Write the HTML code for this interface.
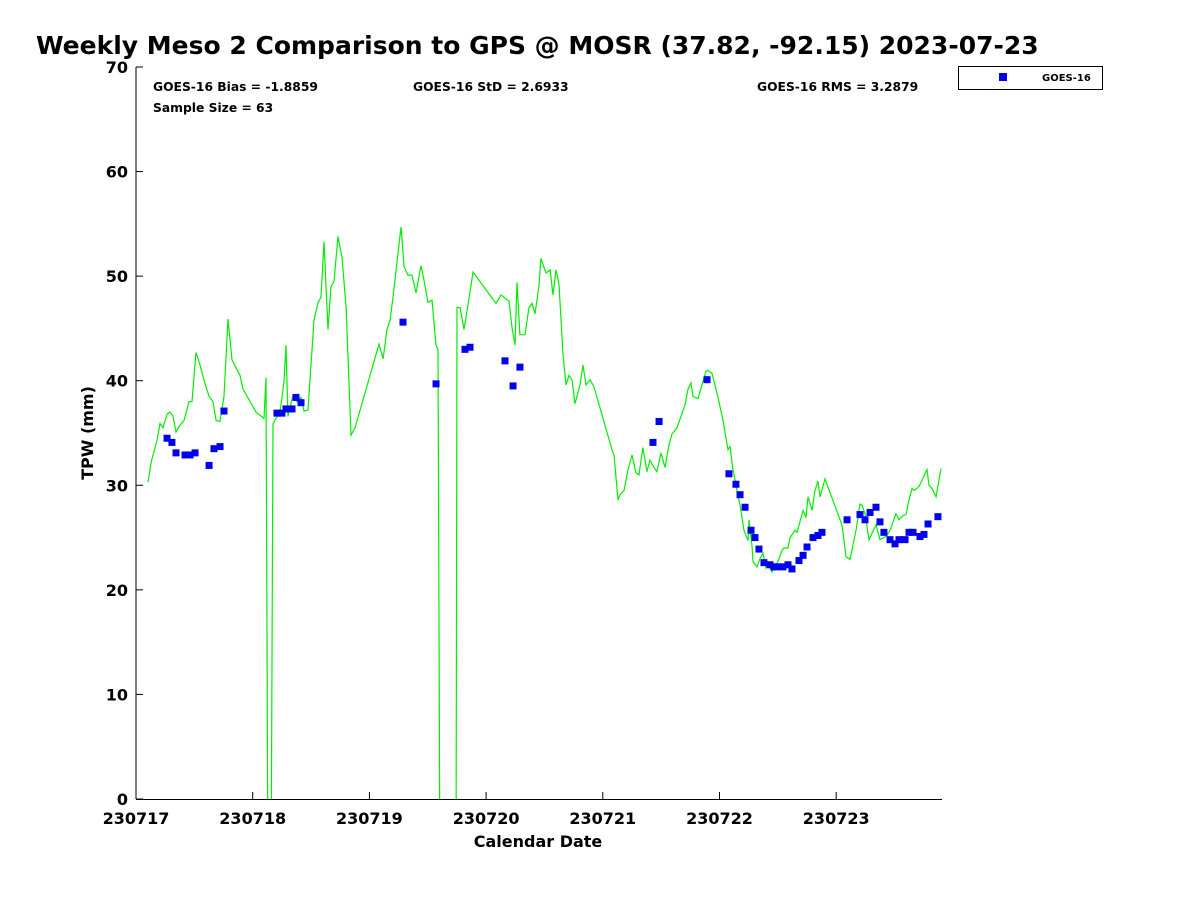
<!DOCTYPE html>
<html><head><meta charset="utf-8"><style>
body{margin:0;background:#fff;font-family:"DejaVu Sans","Liberation Sans",sans-serif}
</style></head><body>
<svg width="1200" height="900" xmlns="http://www.w3.org/2000/svg" style="font-family:'DejaVu Sans','Liberation Sans',sans-serif">
<defs><clipPath id="pc"><rect x="136" y="60" width="806" height="739"/></clipPath></defs>
<rect width="1200" height="900" fill="#fff"/>
<text x="36" y="54" font-size="25" font-weight="bold">Weekly Meso 2 Comparison to GPS @ MOSR (37.82, -92.15) 2023-07-23</text>
<g id="stats" font-size="12.3" font-weight="bold">
<text x="153" y="91">GOES-16 Bias = -1.8859</text>
<text x="413" y="91">GOES-16 StD = 2.6933</text>
<text x="757" y="91">GOES-16 RMS = 3.2879</text>
<text x="153" y="112">Sample Size = 63</text>
</g>
<g id="axes"></g>
<g id="plot" clip-path="url(#pc)"></g>
<g>
<rect x="958.5" y="66.5" width="144" height="23" fill="#fff" stroke="#000" stroke-width="1"/>
<rect x="999" y="73" width="8" height="8" fill="#0000ee"/>
<text x="1042" y="81" font-size="10" font-weight="bold">GOES-16</text>
</g>
<text x="538" y="847" font-size="16" font-weight="bold" text-anchor="middle">Calendar Date</text>
<text transform="translate(93,433) rotate(-90)" font-size="16" font-weight="bold" text-anchor="middle">TPW (mm)</text>
</svg>
<script>
const xTickLabels=["230717","230718","230719","230720","230721","230722","230723"];
const yTicks=[0,10,20,30,40,50,60,70];
const gpsTime=[0.103,0.129,0.180,0.206,0.231,0.266,0.291,0.317,0.343,0.368,0.411,0.454,0.480,0.514,0.548,0.591,0.626,0.660,0.686,0.720,0.754,0.788,0.823,0.891,0.917,1.028,1.097,1.114,1.131,1.157,1.174,1.200,1.234,1.268,1.285,1.302,1.345,1.380,1.414,1.440,1.474,1.525,1.560,1.585,1.611,1.645,1.671,1.697,1.731,1.765,1.800,1.842,1.877,2.082,2.117,2.151,2.177,2.202,2.271,2.297,2.331,2.365,2.399,2.442,2.468,2.502,2.536,2.571,2.588,2.605,2.742,2.751,2.776,2.811,2.853,2.888,3.085,3.102,3.128,3.162,3.196,3.222,3.248,3.265,3.290,3.333,3.368,3.393,3.419,3.453,3.470,3.513,3.548,3.573,3.599,3.625,3.659,3.685,3.710,3.736,3.762,3.805,3.830,3.856,3.890,3.925,4.079,4.096,4.130,4.147,4.182,4.216,4.250,4.284,4.310,4.344,4.379,4.404,4.439,4.464,4.499,4.533,4.567,4.593,4.636,4.704,4.730,4.756,4.773,4.816,4.850,4.884,4.901,4.936,4.987,5.030,5.073,5.090,5.116,5.150,5.176,5.210,5.244,5.253,5.279,5.287,5.321,5.347,5.373,5.398,5.416,5.450,5.476,5.501,5.536,5.553,5.587,5.604,5.647,5.664,5.716,5.741,5.758,5.793,5.818,5.844,5.861,5.904,6.050,6.084,6.118,6.170,6.204,6.221,6.247,6.281,6.298,6.341,6.375,6.409,6.435,6.470,6.487,6.512,6.538,6.572,6.598,6.624,6.650,6.667,6.692,6.710,6.778,6.795,6.821,6.855,6.898];
const gpsTpw=[30.3,32.2,34.3,35.9,35.5,36.8,37.0,36.6,35.1,35.6,36.2,38.0,38.0,42.7,41.5,39.7,38.5,38.0,36.2,36.1,38.5,45.9,42.0,40.5,39.2,37.0,36.4,40.3,-9,-9,35.9,36.4,37.0,39.9,43.4,36.6,38.6,38.0,38.4,37.1,37.2,45.8,47.5,48.0,53.3,44.9,49.0,49.5,53.8,51.8,47.0,34.8,35.5,43.5,42.1,44.9,45.8,48.0,54.7,50.9,50.1,50.1,48.4,51.0,49.6,47.5,47.7,43.4,43.0,-9,-9,47.0,47.0,44.9,47.8,50.4,47.4,47.7,48.2,47.9,47.6,45.1,43.4,49.4,44.4,44.4,47.0,47.4,46.4,49.1,51.7,50.3,50.6,48.2,50.6,49.2,42.5,39.6,40.5,40.1,37.8,39.6,41.5,39.6,40.1,39.4,33.4,32.9,28.6,29.1,29.5,31.5,32.9,31.2,31.0,33.6,31.3,32.4,31.7,31.3,33.1,31.7,33.9,34.9,35.5,37.7,39.2,39.8,38.5,38.3,39.6,40.9,41.0,40.7,38.4,36.2,33.4,33.7,31.5,29.5,28.1,25.7,24.7,26.7,24.1,22.7,22.2,23.0,23.5,22.1,22.5,21.7,22.2,22.7,23.8,24.0,24.0,25.0,25.7,25.5,27.6,26.9,28.9,27.6,29.5,30.4,28.9,30.6,26.2,23.2,22.9,25.7,28.2,28.1,27.3,24.8,25.2,26.2,24.8,25.0,25.2,25.9,26.5,27.3,26.7,27.1,27.2,28.6,29.7,29.5,29.7,29.9,31.5,30.0,29.7,28.9,31.6];
const goesTime=[0.266,0.308,0.343,0.420,0.463,0.506,0.626,0.668,0.720,0.754,1.208,1.251,1.285,1.337,1.371,1.414,2.288,2.571,2.819,2.862,3.162,3.231,3.290,4.430,4.482,4.893,5.081,5.141,5.176,5.219,5.270,5.304,5.338,5.381,5.433,5.467,5.501,5.544,5.587,5.621,5.681,5.716,5.750,5.801,5.844,5.878,6.093,6.204,6.247,6.290,6.341,6.375,6.409,6.461,6.504,6.538,6.590,6.624,6.658,6.718,6.752,6.787,6.872];
const goesTpw=[34.5,34.1,33.1,32.9,32.9,33.1,31.9,33.5,33.7,37.1,36.9,36.9,37.3,37.3,38.4,37.9,45.6,39.7,43.0,43.2,41.9,39.5,41.3,34.1,36.1,40.1,31.1,30.1,29.1,27.9,25.7,25.0,23.9,22.6,22.4,22.2,22.2,22.2,22.4,22.0,22.8,23.3,24.1,25.0,25.2,25.5,26.7,27.2,26.7,27.4,27.9,26.5,25.5,24.8,24.4,24.8,24.8,25.5,25.5,25.1,25.3,26.3,27.0];
const NS='http://www.w3.org/2000/svg';
const X0=136,X1=942,Y0=799,Y1=67;
const xs=d=>X0+d*116.7;
const ys=v=>Y0-(v/70)*(Y0-Y1);
function mk(t,a){const e=document.createElementNS(NS,t);for(const k in a)e.setAttribute(k,a[k]);return e;}
const axes=document.getElementById('axes'),plot=document.getElementById('plot');
let e=mk('line',{x1:X0,y1:Y1,x2:X0,y2:Y0,stroke:'#000','stroke-width':1});


axes.appendChild(e);
e=mk('line',{x1:X0,y1:Y0+0.5,x2:X1,y2:Y0+0.5,stroke:'#000','stroke-width':1});


axes.appendChild(e);
yTicks.forEach(v=>{
 const y=ys(v);
 const t=mk('line',{x1:X0,y1:y,x2:X0+7,y2:y,stroke:'#000'});
 
 
 axes.appendChild(t);
 const l=mk('text',{x:X0-8,y:y+6,'font-size':16,'font-weight':'bold','text-anchor':'end'});
 
 
 l.textContent=v;axes.appendChild(l);
});
xTickLabels.forEach((s,i)=>{
 const x=xs(i);
 const t=mk('line',{x1:x,y1:Y0,x2:x,y2:Y0-7,stroke:'#000'});
 
 
 axes.appendChild(t);
 const l=mk('text',{x:x,y:Y0+25,'font-size':16,'font-weight':'bold','text-anchor':'middle'});
 
 
 l.textContent=s;axes.appendChild(l);
});
const pts=gpsTime.map((d,i)=>xs(d).toFixed(1)+','+ys(gpsTpw[i]).toFixed(1)).join(' ');
const pl=mk('polyline',{points:pts,fill:'none',stroke:'#00ee00','stroke-width':1.2});


plot.appendChild(pl);
goesTime.forEach((d,i)=>{
 const r=mk('rect',{x:xs(d)-3.5,y:ys(goesTpw[i])-3.5,width:7,height:7,fill:'#0000ee'});
 
 
 plot.appendChild(r);
});
</script>
</body></html>
